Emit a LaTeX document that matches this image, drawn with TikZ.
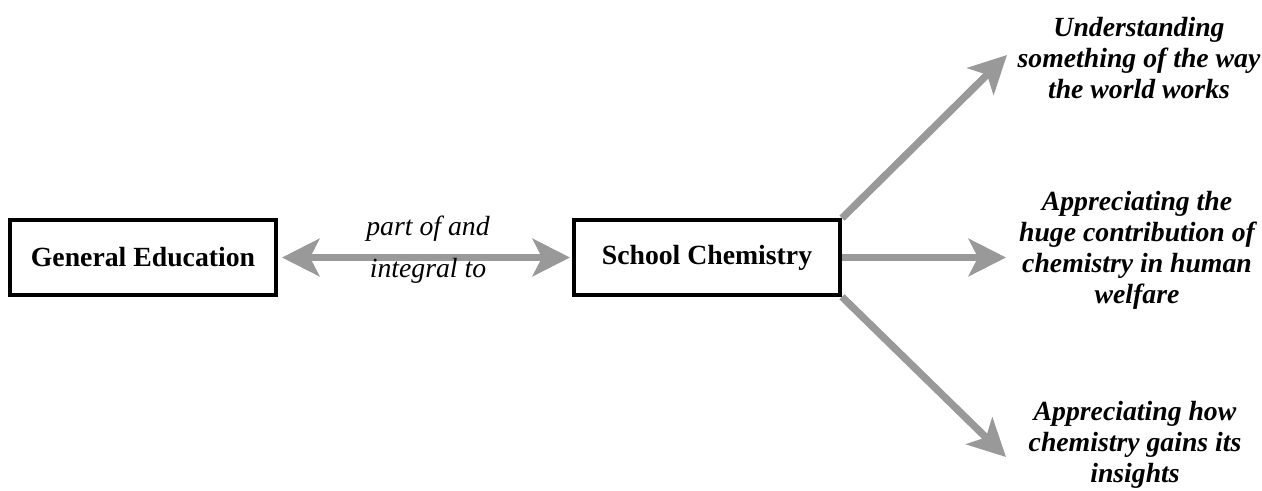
\documentclass[tikz,border=0pt]{standalone}
\usepackage{fontspec}
\setmainfont{Liberation Serif}
\usetikzlibrary{arrows.meta}
\definecolor{arrgray}{HTML}{999999}
\begin{document}
\begin{tikzpicture}[x=0.75pt,y=-0.75pt,
  box/.style={draw,line width=3pt,minimum width=199.5pt,minimum height=56pt,inner sep=0pt,font=\fontsize{20.8}{24}\selectfont\bfseries},
  goal/.style={align=center,font=\fontsize{20.8}{23.3}\selectfont\bfseries\itshape},
  rel/.style={font=\fontsize{20.8}{24}\selectfont\itshape},
  >={Stealth[length=28pt,width=28pt,inset=7pt,fill=arrgray]},
  conn/.style={draw=arrgray,line width=5.5pt,->},
  dconn/.style={draw=arrgray,line width=5.5pt,<->}]
\useasboundingbox (0,0) rectangle (1262,490);
\node[box] (ge) at (143,257.5) {General Education};
\node[box] (sc) at (707,257.5) {School Chemistry};
\draw[dconn] ([xshift=3pt]ge.east) -- ([xshift=-1.5pt]sc.west);
\node[rel] (r1) at (428,229) {part of and};
\node[rel] (r2) at (428,271) {integral to};
\coordinate (e1) at (1007,55);
\coordinate (e2) at (1006,257.5);
\coordinate (e3) at (1006,457);
\draw[conn] (sc.north east) -- (e1);
\draw[conn] (sc.east) -- (e2);
\draw[conn] (sc.south east) -- (e3);
\node[goal] (g1) at (1139,58) {Understanding\\something of the way\\the world works};
\node[goal] (g2) at (1137,250.5) {Appreciating the\\huge contribution of\\chemistry in human\\welfare};
\node[goal] (g3) at (1135,445) {Appreciating how\\chemistry gains its\\insights};
\end{tikzpicture}
\end{document}
